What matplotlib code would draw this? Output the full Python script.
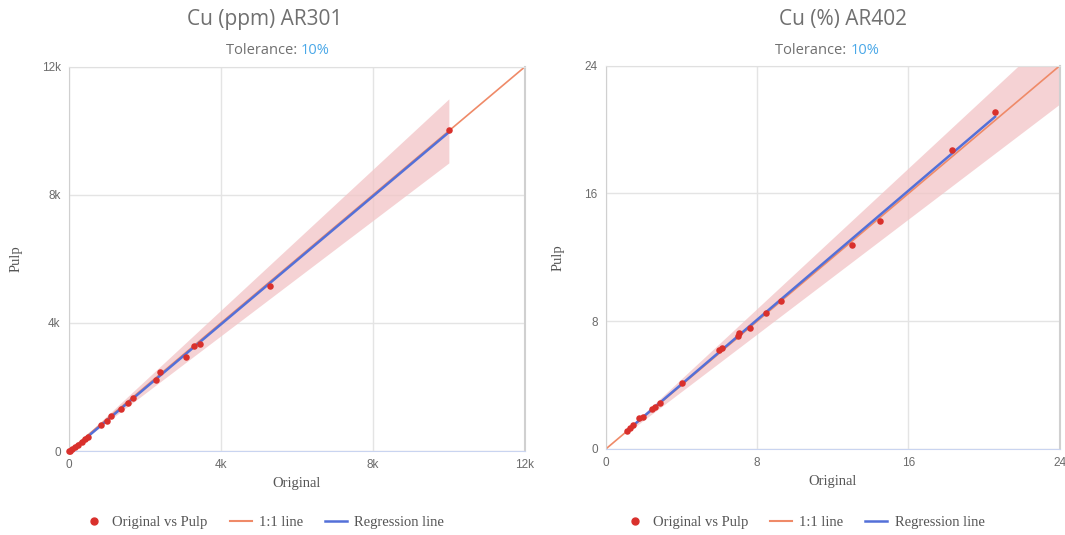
import numpy as np
import matplotlib
matplotlib.use("Agg")
import matplotlib.pyplot as plt
from matplotlib.lines import Line2D

# left panel: Cu (ppm) AR301
orig_ppm = [10000, 5290, 3079, 3290, 3447, 2395, 2290, 1684, 1553, 1368, 1105, 1000, 842,
            500, 421, 342, 237, 158, 79, 26, 0]
pulp_ppm = [10026, 5156, 2937, 3281, 3344, 2469, 2219, 1656, 1500, 1312, 1094, 937, 812,
            437, 375, 281, 187, 125, 62, 0, 0]

# right panel: Cu (%) AR402
orig_pct = [20.58, 18.3, 14.5, 13.0, 9.26, 8.47, 7.62, 7.04, 7.0, 6.14, 5.98, 4.02, 2.86,
            2.6, 2.43, 1.96, 1.75, 1.43, 1.27, 1.11]
pulp_pct = [21.1, 18.75, 14.25, 12.8, 9.25, 8.5, 7.6, 7.25, 7.06, 6.3, 6.19, 4.12, 2.87,
            2.6, 2.48, 2.0, 1.94, 1.5, 1.31, 1.12]

titles = ["Cu (ppm) AR301", "Cu (%) AR402"]
ticks = [[0, 4000, 8000, 12000], [0, 8, 16, 24]]
ticklabels = [["0", "4k", "8k", "12k"], ["0", "8", "16", "24"]]
tolerance = 0.10

RED = "#d9302c"
ORANGE = "#ef8a68"
BLUE = "#5470d8"
BAND = "#f2c4c6"
GREY = "#6b6b6b"

fig = plt.figure(figsize=(10.65, 5.35), dpi=100)
axes = [fig.add_axes([0.0648, 0.157, 0.428, 0.718]),
        fig.add_axes([0.569, 0.161, 0.426, 0.716])]

panels = [(orig_ppm, pulp_ppm, 0, 10000), (orig_pct, pulp_pct, 0, 24)]
for i, (ax, (x, y, band_lo, band_hi)) in enumerate(zip(axes, panels)):
    x = np.array(x); y = np.array(y)
    top = ticks[i][-1]
    # tolerance band around the 1:1 line
    bx = np.linspace(band_lo if i == 0 else x.min(), band_hi, 50)
    ax.fill_between(bx, bx * (1 - tolerance), bx * (1 + tolerance), color=BAND, alpha=0.75,
                    lw=0, zorder=1)
    ax.plot([0, top], [0, top], color=ORANGE, lw=1.2, zorder=2)
    # regression line
    slope, icpt = np.polyfit(x, y, 1)
    rx = np.array([x.min(), x.max()])
    ax.plot(rx, slope * rx + icpt, color=BLUE, lw=1.8, zorder=3)
    ax.scatter(x, y, s=22, color=RED, zorder=4, clip_on=False, lw=0)

    ax.set_xlim(0, top); ax.set_ylim(0, top)
    ax.set_xticks(ticks[i]); ax.set_xticklabels(ticklabels[i])
    ax.set_yticks(ticks[i]); ax.set_yticklabels(ticklabels[i])
    ax.grid(True, color="#e4e4e4", lw=1)
    ax.set_axisbelow(True)
    ax.tick_params(length=0, labelsize=8.5, labelcolor=GREY, pad=6)
    for lab in ax.get_xticklabels() + ax.get_yticklabels():
        lab.set_family("Liberation Sans")
    for s in ["top", "right"]:
        ax.spines[s].set_color("#e0e0e0")
    ax.spines["right"].set_color("#d0d0d0")
    ax.spines["right"].set_linewidth(1.5)
    ax.spines["left"].set_color("#d0d0d0")
    ax.spines["bottom"].set_color("#c9d4f0")
    ax.set_xlabel("Original", family="Liberation Serif", fontsize=10.5, color="#555555", labelpad=4)
    ax.set_ylabel("Pulp", family="Liberation Serif", fontsize=10.5, color="#555555", labelpad=14)

# titles
for cx, t in zip([0.249, 0.792], titles):
    fig.text(cx, 0.964, t, ha="center", va="center", fontsize=15, color="#707070",
             family="Open Sans")
for sx in [0.2825, 0.7985]:
    fig.text(sx, 0.906, "Tolerance: ", ha="right", va="center", fontsize=10.5,
             color="#707070", family="Open Sans")
    fig.text(sx, 0.906, "10%", ha="left", va="center", fontsize=10.5,
             color="#4aa8e8", family="Open Sans")

handles = [Line2D([], [], ls="none", marker="o", ms=5, color=RED),
           Line2D([], [], color=ORANGE, lw=1.5),
           Line2D([], [], color=BLUE, lw=1.8)]
labels = ["Original vs Pulp", "1:1 line", "Regression line"]
for cx in [0.2475, 0.755]:
    fig.legend(handles, labels, loc="center", bbox_to_anchor=(cx, 0.023), ncol=3, frameon=False,
               prop={"family": "Liberation Serif", "size": 10.5}, labelcolor="#555555",
               handlelength=1.5, columnspacing=1.5, handletextpad=0.5)

fig.savefig("out.png", dpi=100)
